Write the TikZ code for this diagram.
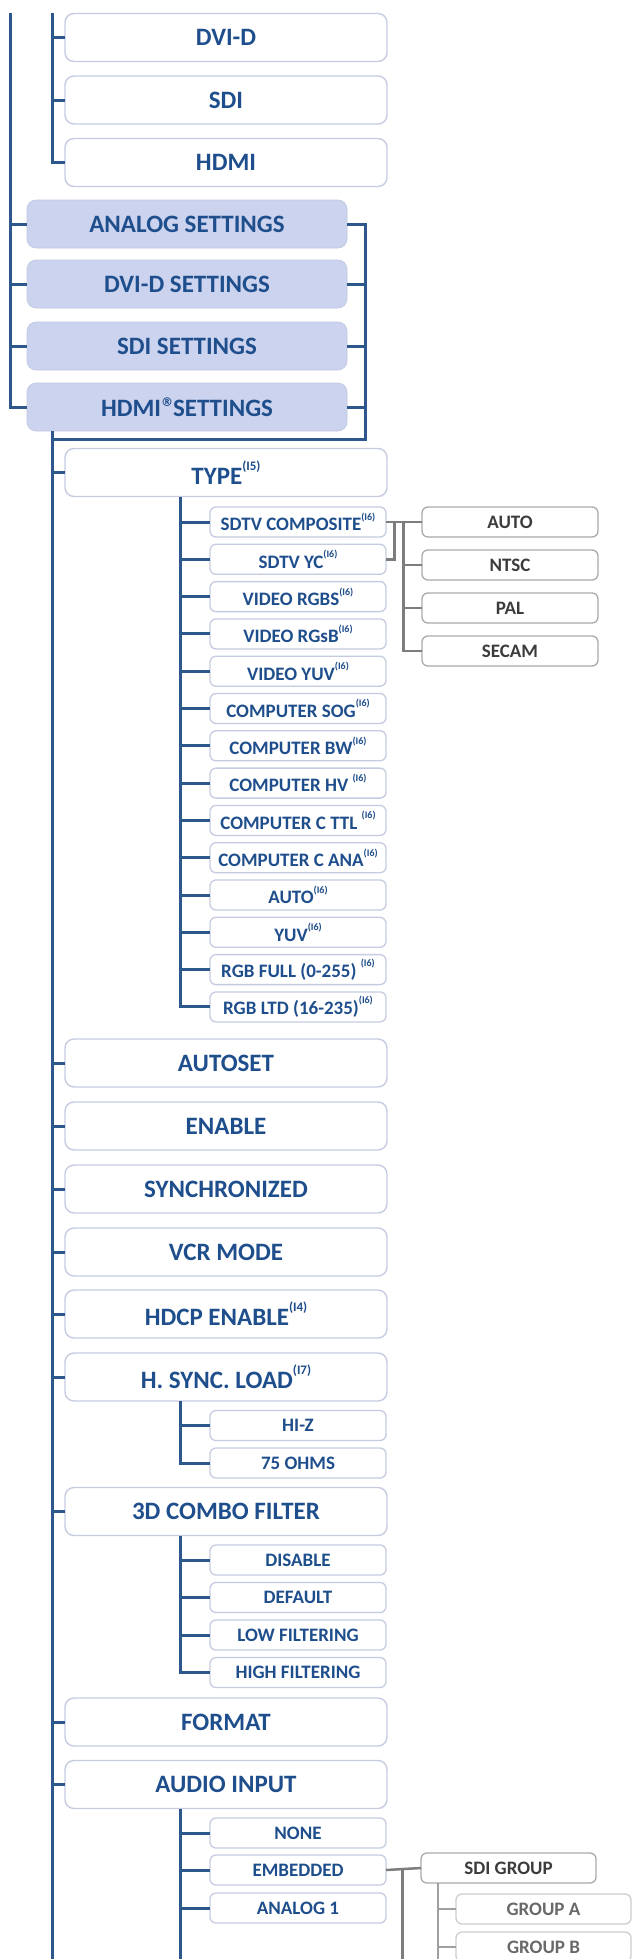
\documentclass[tikz,border=0pt]{standalone}
\usepackage{fontspec}
\setmainfont{Carlito}
\newfontfamily\djv{DejaVu Sans}
\definecolor{txt}{RGB}{31,78,140}
\definecolor{bl}{RGB}{45,88,140}
\definecolor{bord}{RGB}{198,203,226}
\definecolor{setfill}{RGB}{203,211,238}
\definecolor{gtxt}{RGB}{60,60,60}
\definecolor{gbord}{RGB}{170,170,170}
\definecolor{gline}{RGB}{125,125,125}
\definecolor{ltxt}{RGB}{105,105,105}
\definecolor{lbord}{RGB}{205,205,205}
\definecolor{lline}{RGB}{160,160,160}
\newcommand{\supI}[1]{\raisebox{0.55em}{\fontsize{10}{10}\selectfont #1}}
\newcommand{\supB}[1]{\raisebox{0.55em}{\fontsize{13}{13}\selectfont #1}}
\newcommand{\regmark}{\raisebox{0.42em}{\djv\bfseries\fontsize{12}{12}\selectfont ®}}
\tikzset{
  every node/.style={inner sep=0pt, outer sep=0pt},
  wbox/.style={draw=bord, line width=1.4pt, rounded corners=9pt, fill=white, text=txt,
    font=\bfseries\fontsize{25}{30}\selectfont, minimum width=322pt, minimum height=48pt},
  setbox/.style={fill=setfill, draw=setfill!90!black!60!setfill, line width=0.6pt, rounded corners=9pt, text=txt,
    font=\bfseries\fontsize{25}{30}\selectfont, minimum width=320pt, minimum height=48pt},
  sbox/.style={draw=bord, line width=1.3pt, rounded corners=6pt, fill=white, text=txt,
    font=\bfseries\fontsize{19}{23}\selectfont, minimum width=176pt, minimum height=30pt},
  gbox/.style={draw=gbord, line width=1.3pt, rounded corners=6pt, fill=white, text=gtxt,
    font=\bfseries\fontsize{19}{23}\selectfont, minimum width=176pt, minimum height=30pt},
  lbox/.style={draw=lbord, line width=1.3pt, rounded corners=6pt, fill=white, text=ltxt,
    font=\bfseries\fontsize{19}{23}\selectfont, minimum width=175pt, minimum height=30pt},
  bline/.style={draw=bl, line width=3pt},
  gconn/.style={draw=gline, line width=2.5pt},
  lconn/.style={draw=lline, line width=2.2pt},
}
\begin{document}
\begin{tikzpicture}[x=1pt,y=-1pt]
\useasboundingbox (0,0) rectangle (634,1959);
% top group
\node[wbox] (dvid) at (226,37.5) {DVI-D};
\node[wbox] (sdi) at (226,100) {SDI};
\node[wbox] (hdmi) at (226,162.5) {HDMI};
% settings
\node[setbox] (analog) at (187,224) {ANALOG SETTINGS};
\node[setbox] (dvidset) at (187,284) {DVI-D SETTINGS};
\node[setbox] (sdiset) at (187,346) {SDI SETTINGS};
\node[setbox] (hdmiset) at (187,407) {HDMI\regmark SETTINGS};
% main children
\node[wbox] (type) at (226,472.5) {TYPE\supB{(I5)}};
\node[sbox] (t1) at (298,522) {SDTV COMPOSITE\supI{(I6)}};
\node[sbox] (t2) at (298,559.3) {SDTV YC\supI{(I6)}};
\node[sbox] (t3) at (298,596.6) {VIDEO RGBS\supI{(I6)}};
\node[sbox] (t4) at (298,633.9) {VIDEO RGsB\supI{(I6)}};
\node[sbox] (t5) at (298,671.2) {VIDEO YUV\supI{(I6)}};
\node[sbox] (t6) at (298,708.5) {COMPUTER SOG\supI{(I6)}};
\node[sbox] (t7) at (298,745.8) {COMPUTER BW\supI{(I6)}};
\node[sbox] (t8) at (298,783.1) {COMPUTER HV \supI{(I6)}};
\node[sbox] (t9) at (298,820.4) {COMPUTER C TTL \supI{(I6)}};
\node[sbox] (t10) at (298,857.7) {COMPUTER C ANA\supI{(I6)}};
\node[sbox] (t11) at (298,895) {AUTO\supI{(I6)}};
\node[sbox] (t12) at (298,932.3) {YUV\supI{(I6)}};
\node[sbox] (t13) at (298,969.6) {RGB FULL (0-255) \supI{(I6)}};
\node[sbox] (t14) at (298,1006.9) {RGB LTD (16-235)\supI{(I6)}};
\node[gbox] (auto) at (510,522) {AUTO};
\node[gbox] (ntsc) at (510,565) {NTSC};
\node[gbox] (pal) at (510,608) {PAL};
\node[gbox] (secam) at (510,651) {SECAM};
\node[wbox] (autoset) at (226,1063) {AUTOSET};
\node[wbox] (enable) at (226,1126) {ENABLE};
\node[wbox] (sync) at (226,1189) {SYNCHRONIZED};
\node[wbox] (vcr) at (226,1252) {VCR MODE};
\node[wbox] (hdcp) at (226,1314) {HDCP ENABLE\supB{(I4)}};
\node[wbox] (hsync) at (226,1377) {H. SYNC. LOAD\supB{(I7)}};
\node[sbox] (hiz) at (298,1425.5) {HI-Z};
\node[sbox] (ohms) at (298,1463) {75 OHMS};
\node[wbox] (combo) at (226,1511.5) {3D COMBO FILTER};
\node[sbox] (disable) at (298,1560) {DISABLE};
\node[sbox] (default) at (298,1597.5) {DEFAULT};
\node[sbox] (low) at (298,1635) {LOW FILTERING};
\node[sbox] (high) at (298,1672.5) {HIGH FILTERING};
\node[wbox] (format) at (226,1722) {FORMAT};
\node[wbox] (audio) at (226,1784.5) {AUDIO INPUT};
\node[sbox] (none) at (298,1833) {NONE};
\node[sbox] (embedded) at (298,1870) {EMBEDDED};
\node[sbox] (analog1) at (298,1908) {ANALOG 1};
\node[gbox, minimum width=175pt] (sdigroup) at (508.5,1868) {SDI GROUP};
\node[lbox] (groupa) at (543.5,1909) {GROUP A};
\node[lbox] (groupb) at (543.5,1947) {GROUP B};
% coordinates
\coordinate (ltop) at (10,13);
\coordinate (l2top) at (52,13);
\coordinate (rj) at (365,439.5);
\coordinate (tbot) at (52,1962);
\coordinate (cx) at (180,1962);
\coordinate (gj) at ([xshift=17.5pt]t1.east);
\coordinate (yj) at ([xshift=8.5pt]t1.east);
\coordinate (ej) at ([xshift=16.5pt]embedded.east);
\coordinate (sx) at (438,1962);
% top lines
\draw[bline] (l2top) |- (hdmi.west);
\draw[bline] (l2top |- dvid.west) -- (dvid.west);
\draw[bline] (l2top |- sdi.west) -- (sdi.west);
\draw[bline] (ltop) |- (hdmiset.west);
\draw[bline] (ltop |- analog.west) -- (analog.west);
\draw[bline] (ltop |- dvidset.west) -- (dvidset.west);
\draw[bline] (ltop |- sdiset.west) -- (sdiset.west);
\draw[bline] (analog.east) -| (rj) -- (rj -| tbot);
\draw[bline] (dvidset.east) -- (dvidset.east -| rj);
\draw[bline] (sdiset.east) -- (sdiset.east -| rj);
\draw[bline] (hdmiset.east) -- (hdmiset.east -| rj);
% trunk
\draw[bline] (hdmiset.south -| tbot) -- (tbot);
\foreach \n in {type,autoset,enable,sync,vcr,hdcp,hsync,combo,format,audio}
  \draw[bline] (\n.west -| tbot) -- (\n.west);
% type children
\draw[bline] (type.south -| cx) |- (t14.west);
\foreach \n in {t1,t2,t3,t4,t5,t6,t7,t8,t9,t10,t11,t12,t13}
  \draw[bline] (\n.west -| cx) -- (\n.west);
\draw[gconn] (t1.east) -- (auto.west);
\draw[gconn] (t2.east) -| (yj);
\draw[gconn] (gj) |- (secam.west);
\draw[gconn] (gj |- ntsc.west) -- (ntsc.west);
\draw[gconn] (gj |- pal.west) -- (pal.west);
% hsync children
\draw[bline] (hsync.south -| cx) |- (ohms.west);
\draw[bline] (hiz.west -| cx) -- (hiz.west);
% combo children
\draw[bline] (combo.south -| cx) |- (high.west);
\foreach \n in {disable,default,low}
  \draw[bline] (\n.west -| cx) -- (\n.west);
% audio children
\draw[bline] (audio.south -| cx) -- (cx);
\foreach \n in {none,embedded,analog1}
  \draw[bline] (\n.west -| cx) -- (\n.west);
\draw[gconn] (embedded.east) -- (sdigroup.west);
\draw[gconn] (ej) -- (ej |- tbot);
\draw[lconn] (sdigroup.south -| sx) -- (sx);
\draw[lconn] (groupa.west -| sx) -- (groupa.west);
\draw[lconn] (groupb.west -| sx) -- (groupb.west);
\end{tikzpicture}
\end{document}
